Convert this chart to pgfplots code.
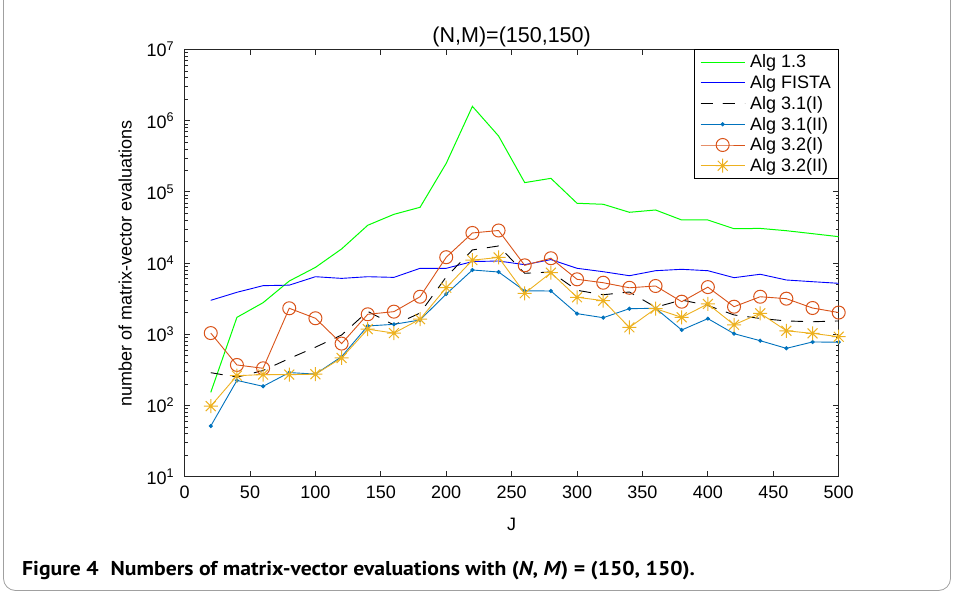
\documentclass[border=0pt]{standalone}
\usepackage{fontspec}
\setmainfont{Liberation Sans}
\newfontfamily\capfont{PT Sans}
\usepackage{graphicx}
\usepackage{pgfplots}
\usepackage{pgfplotstable}
\pgfplotsset{compat=1.18}

\definecolor{puregreen}{HTML}{00FF00}
\definecolor{pureblue}{HTML}{0000FF}
\definecolor{mlblue}{HTML}{0072BD}
\definecolor{mlorange}{HTML}{D95319}
\definecolor{mlyellow}{HTML}{EDB120}
\definecolor{axgray}{HTML}{262626}
\definecolor{framegray}{HTML}{A0A0A0}

% matlab-like '*' marker: plus and cross together
\pgfdeclareplotmark{mstar}{%
  \pgfpathmoveto{\pgfqpoint{-\pgfplotmarksize}{0pt}}\pgfpathlineto{\pgfqpoint{\pgfplotmarksize}{0pt}}%
  \pgfpathmoveto{\pgfqpoint{0pt}{-\pgfplotmarksize}}\pgfpathlineto{\pgfqpoint{0pt}{\pgfplotmarksize}}%
  \pgfpathmoveto{\pgfqpoint{-0.707\pgfplotmarksize}{-0.707\pgfplotmarksize}}\pgfpathlineto{\pgfqpoint{0.707\pgfplotmarksize}{0.707\pgfplotmarksize}}%
  \pgfpathmoveto{\pgfqpoint{-0.707\pgfplotmarksize}{0.707\pgfplotmarksize}}\pgfpathlineto{\pgfqpoint{0.707\pgfplotmarksize}{-0.707\pgfplotmarksize}}%
  \pgfusepathqstroke}

\pgfplotstableread{
J   alg13   fista  a31i   a31ii  a32i   a32ii
20  153     3000   289    51.5   1040   98
40  1730    3890   250    225    371    262
60  2780    4820   310    186    333    272
80  5600    4900   457    290    2320   272
100 8700    6440   659    276    1680   275
120 15800   6100   977    485    740    465
140 34000   6440   2100   1310   1910   1180
160 48400   6300   1350   1380   2080   1040
180 60800   8450   1990   1590   3370   1630
200 252000  8450   6400   3680   12100  4510
220 1590000 10500  15300  8000   26500  11000
240 610000  10700  17400  7500   28700  12000
260 135000  9500   7190   4070   9300   3770
280 155000  11200  7500   4060   11700  7330
300 69200   8450   4150   1950   5920   3310
320 67000   7570   3590   1710   5300   2970
340 51700   6650   3930   2290   4500   1250
360 55700   7820   2400   2320   4770   2290
380 40300   8180   3030   1150   2870   1730
400 40300   7820   2540   1660   4600   2670
420 30400   6240   1870   1020   2440   1360
440 30700   6970   1670   813    3370   1970
460 28500   5790   1540   635    3165   1120
480 25900   5480   1500   780    2340   1030
500 23500   5200   1540   775    2020   925
}\data

\begin{document}
\begin{tikzpicture}
\useasboundingbox (0,0) rectangle (954bp,596bp);
\begin{scope}
  \clip (0,0) rectangle (954bp,596bp);
  \draw[framegray, line width=0.8bp, rounded corners=12bp] (3.5bp,5.5bp) rectangle (950.5bp,650bp);
\end{scope}
\begin{axis}[
  at={(184.6bp,119.3bp)}, anchor=south west,
  width=654.1bp, height=427.2bp, scale only axis,
  xmin=0, xmax=500, ymode=log, ymin=10, ymax=1e7,
  xtick={0,50,...,500},
  ytick={1e1,1e2,1e3,1e4,1e5,1e6,1e7},
  yticklabels={10\textsuperscript{1},10\textsuperscript{2},10\textsuperscript{3},10\textsuperscript{4},10\textsuperscript{5},10\textsuperscript{6},10\textsuperscript{7}},
  /pgf/number format/assume math mode=true,
  tick label style={font=\fontsize{18bp}{21bp}\selectfont, text=black},
  every x tick label/.append style={yshift=-6bp},
  every y tick label/.append style={xshift=-7bp},
  label style={font=\fontsize{18bp}{21bp}\selectfont},
  every axis x label/.append style={yshift=-12bp},
  every axis y label/.append style={yshift=8bp},
  title style={font=\fontsize{21.5bp}{24bp}\selectfont, yshift=-7bp},
  title={(N,M)=(150,150)},
  xlabel={J}, ylabel={number of matrix-vector evaluations},
  axis line style={axgray, line width=0.9bp},
  every tick/.style={axgray, line width=0.8bp},
  major tick length=5.5bp, minor tick length=3bp,
  tick align=inside,
  legend style={at={(1,1)}, anchor=north east, draw=black, line width=0.7bp,
    font=\fontsize{18bp}{20bp}\selectfont, inner xsep=5.5bp, inner ysep=3bp,
    row sep=2.2bp, column sep=3bp, cells={anchor=west}},
  legend cell align=left,
  legend image code/.code={\draw[mark repeat=2,mark phase=2,#1] plot coordinates {(0bp,0bp) (22bp,0bp) (44bp,0bp)};},
]
\addplot[puregreen, line width=1bp] table[x=J,y=alg13]{\data};
\addlegendentry{Alg 1.3}
\addplot[pureblue, line width=0.9bp] table[x=J,y=fista]{\data};
\addlegendentry{Alg FISTA}
\addplot[black, line width=0.9bp, dash pattern=on 12bp off 10bp] table[x=J,y=a31i]{\data};
\addlegendentry{Alg 3.1(I)}
\addplot[mlblue, line width=0.9bp, mark=*, mark size=1.6bp, mark options={solid}] table[x=J,y=a31ii]{\data};
\addlegendentry{Alg 3.1(II)}
\addplot[mlorange, line width=0.9bp, mark=o, mark size=6.5bp, mark options={solid, line width=1bp}] table[x=J,y=a32i]{\data};
\addlegendentry{Alg 3.2(I)}
\addplot[mlyellow, line width=0.9bp, mark=mstar, mark size=7bp, mark options={solid, line width=1bp}] table[x=J,y=a32ii]{\data};
\addlegendentry{Alg 3.2(II)}
\end{axis}
\node[anchor=base west, inner sep=0pt, font=\capfont\bfseries\fontsize{20bp}{23bp}\selectfont] at (22bp,21bp)
  {\scalebox{1.085}[1]{Figure 4\hspace{0.55em}Numbers of matrix-vector evaluations with (\textit{N}, \textit{M}) = (150, 150).}};
\end{tikzpicture}
\end{document}
